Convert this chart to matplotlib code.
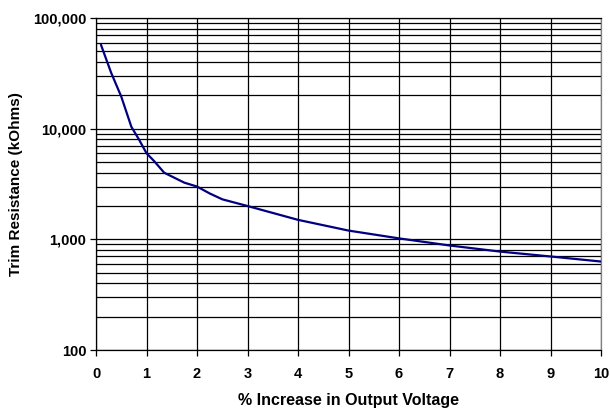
import matplotlib.pyplot as plt
from matplotlib.ticker import FixedLocator, FuncFormatter, NullFormatter

# values
pct_increase = [0.1, 0.3, 0.5, 0.7, 0.85, 1.0, 1.15, 1.35, 1.5, 1.75, 2.0, 2.25, 2.5, 3.0, 4.0, 5.0, 6.0, 7.0, 8.0, 9.0, 10.0]
trim_kohm = [57000, 32000, 19500, 10400, 8000, 6000, 5100, 4000, 3700, 3250, 3000, 2600, 2300, 2000, 1500, 1200, 1020, 880, 775, 700, 630]

x_ticks = list(range(0, 11))
y_major = [100, 1000, 10000, 100000]

plt.rcParams['font.family'] = ['Liberation Sans', 'DejaVu Sans']

fig = plt.figure(figsize=(6.10, 4.09), dpi=100)
ax = fig.add_axes([96 / 610, 1 - 350 / 409, 505 / 610, 332 / 409])

ax.plot(pct_increase, trim_kohm, color='#000080', linewidth=1.6, zorder=3)

ax.set_yscale('log')
ax.set_xlim(0, 10)
ax.set_ylim(100, 100000)
ax.set_xticks(x_ticks)
ax.yaxis.set_major_locator(FixedLocator(y_major))
minor = [m * 10 ** e for e in range(2, 5) for m in range(2, 10)]
ax.yaxis.set_minor_locator(FixedLocator(minor))
ax.yaxis.set_minor_formatter(NullFormatter())
ax.yaxis.set_major_formatter(FuncFormatter(lambda v, p: f"{int(v):,}"))

ax.grid(True, which='major', axis='both', color='black', linewidth=0.9)
ax.grid(True, which='minor', axis='y', color='black', linewidth=0.9)
ax.tick_params(axis='both', which='major', direction='out', length=4, width=0.9,
               labelsize=10.5)
ax.tick_params(axis='x', which='major', pad=8)
ax.tick_params(axis='y', which='major', pad=3)
ax.tick_params(axis='y', which='minor', length=0)
for lbl in ax.get_xticklabels() + ax.get_yticklabels():
    lbl.set_fontweight('bold')

for side in ['left', 'bottom', 'top']:
    ax.spines[side].set_color('black')
    ax.spines[side].set_linewidth(0.9)
ax.spines['right'].set_color('#808080')
ax.spines['right'].set_linewidth(0.9)

ax.set_xlabel("% Increase in Output Voltage", fontsize=11.5, fontweight='bold', labelpad=9)
ax.set_ylabel("Trim Resistance (kOhms)", fontsize=11, fontweight='bold', labelpad=7)

fig.savefig("out.png", dpi=100)
